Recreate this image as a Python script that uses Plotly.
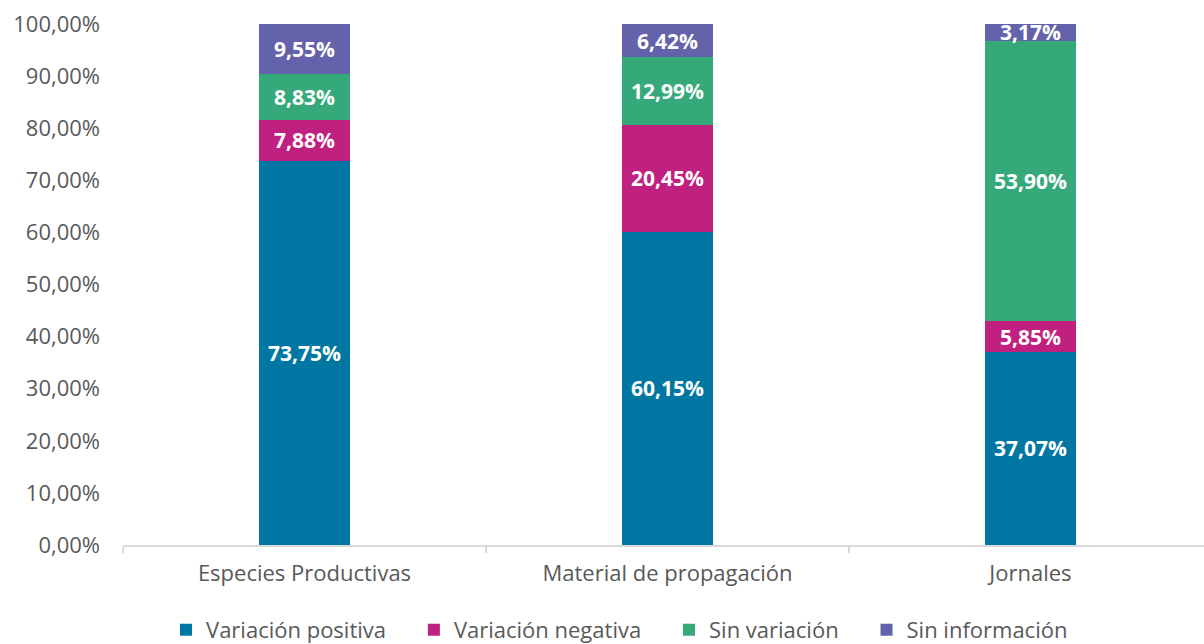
import plotly.graph_objects as go

categories = ['Especies Productivas', 'Material de propagación', 'Jornales']

series_names = ['Variación positiva', 'Variación negativa', 'Sin variación', 'Sin información']
variacion_positiva = [73.75, 60.15, 37.07]
variacion_negativa = [7.88, 20.45, 5.85]
sin_variacion = [8.83, 12.99, 53.90]
sin_informacion = [9.55, 6.42, 3.17]

colors = ['#0077A3', '#C0207F', '#36A97A', '#6462AA']

y_ticks = [0, 10, 20, 30, 40, 50, 60, 70, 80, 90, 100]
y_tick_labels = ['0,00%', '10,00%', '20,00%', '30,00%', '40,00%', '50,00%',
                 '60,00%', '70,00%', '80,00%', '90,00%', '100,00%']

# a little extra room after each legend entry, like the original
pad = '\u00a0' * 4

fig = go.Figure()

for name, vals, col in zip(series_names,
                           [variacion_positiva, variacion_negativa, sin_variacion, sin_informacion],
                           colors):
    fig.add_trace(go.Bar(
        x=categories, y=vals, name=name + pad,
        marker=dict(color=col, line=dict(width=0)),
        width=0.25,
        texttemplate='<b>%{y:.2f}%</b>',
        textposition='inside', insidetextanchor='middle',
        textfont=dict(family='Open Sans', size=21, color='white'),
        constraintext='none',
    ))

fig.update_layout(
    barmode='stack',
    separators=',.',
    width=1204, height=644,
    paper_bgcolor='white', plot_bgcolor='white',
    margin=dict(l=123, r=0, t=24, b=99, autoexpand=False),
    font=dict(family='Open Sans', size=22, color='#595959'),
    legend=dict(orientation='h', x=0.0398, xanchor='left', y=-0.163, yanchor='middle',
                font=dict(size=22, color='#595959'), traceorder='normal'),
    showlegend=True,
)

fig.update_yaxes(range=[0, 100], tickvals=y_ticks, ticktext=y_tick_labels,
                 showgrid=False, zeroline=False, showline=False, automargin=False,
                 tickfont=dict(size=22, color='#595959'), ticklabelstandoff=22)

fig.update_xaxes(range=[-0.5, 2.478], showgrid=False, showline=True, linecolor='#D9D9D9',
                 linewidth=2, ticks='outside', tickson='boundaries', ticklen=6,
                 tickcolor='#D9D9D9', tickwidth=2, automargin=False,
                 tickfont=dict(size=22, color='#595959'), ticklabelstandoff=8)

# drop the default page margin so the figure sits at the top-left corner
fig.write_html("out.html", config={'displayModeBar': False},
               post_script="document.body.style.margin='0px';")
